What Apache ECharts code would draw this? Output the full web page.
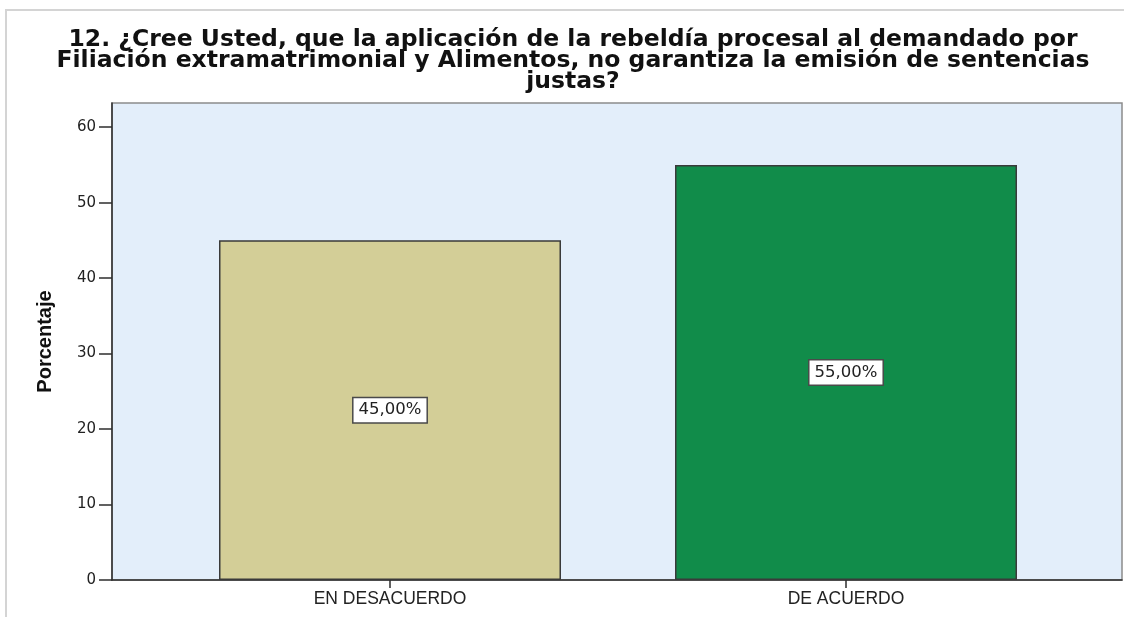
<!DOCTYPE html>
<html>
<head>
<meta charset="utf-8">
<script src="https://cdn.jsdelivr.net/npm/echarts@6/dist/echarts.min.js"></script>
<style>
html,body{margin:0;padding:0;background:#fff;}
#chart{width:1124px;height:617px;}
</style>
</head>
<body>
<div id="chart"></div>
<script>
const titleText = "12. ¿Cree Usted, que la aplicación de la rebeldía procesal al demandado por\nFiliación extramatrimonial y Alimentos, no garantiza la emisión de sentencias\njustas?";
const categories = ["EN DESACUERDO", "DE ACUERDO"];
const percentages = [45.0, 55.0];
const barColors = ["#d3ce97", "#118c4a"];
const yTicks = [0, 10, 20, 30, 40, 50, 60];
const yAxisName = "Porcentaje";
const yMax = 63.2;

const chart = echarts.init(document.getElementById('chart'), null, {renderer: 'canvas'});
const option = {
  animation: false,
  backgroundColor: '#ffffff',
  title: {
    text: titleText,
    left: 573,
    textAlign: 'center',
    top: 29,
    padding: 0,
    textStyle: {
      fontFamily: 'DejaVu Sans',
      fontWeight: 'bold',
      fontSize: 23.5,
      lineHeight: 21,
      color: '#111'
    }
  },
  graphic: [{
    type: 'rect',
    silent: true,
    shape: {x: 6, y: 10, width: 1130, height: 620},
    style: {fill: 'none', stroke: '#d4d4d4', lineWidth: 2},
    z: -10
  }],
  grid: [
    {left: 112, top: 103, right: 2, bottom: 37, show: true,
     backgroundColor: '#e3eefa', borderColor: '#8c8c8c', borderWidth: 1.5, containLabel: false},
    {left: 162, top: 103, right: 50, bottom: 37, containLabel: false}
  ],
  xAxis: [
    {type: 'value', gridIndex: 0, min: 0, max: 1,
     axisLine: {show: true, lineStyle: {color: '#2e2e2e', width: 1.5}},
     axisTick: {show: false}, axisLabel: {show: false}, splitLine: {show: false}},
    {type: 'category', gridIndex: 1, data: categories,
     axisLine: {show: false},
     axisTick: {show: true, alignWithLabel: true, length: 8, lineStyle: {color: '#2e2e2e', width: 1.5}},
     axisLabel: {margin: 10, fontFamily: 'Liberation Sans', fontSize: 17.5, color: '#222'},
     splitLine: {show: false}}
  ],
  yAxis: [
    {type: 'value', gridIndex: 0, min: 0, max: yMax, interval: 10,
     name: yAxisName, nameLocation: 'middle', nameGap: 57, nameRotate: 90,
     nameTextStyle: {fontFamily: 'Liberation Sans', fontWeight: 'bold', fontSize: 20, color: '#111'},
     axisLine: {show: true, lineStyle: {color: '#2e2e2e', width: 1.5}},
     axisTick: {show: true, length: 13, customValues: yTicks, lineStyle: {color: '#2e2e2e', width: 1.5}},
     axisLabel: {margin: 16, customValues: yTicks, fontFamily: 'DejaVu Sans', fontSize: 15, color: '#222'},
     splitLine: {show: false}},
    {type: 'value', gridIndex: 1, min: 0, max: yMax, show: false, splitLine: {show: false}}
  ],
  series: [{
    type: 'bar',
    xAxisIndex: 1,
    yAxisIndex: 1,
    barWidth: '75%',
    data: percentages.map((v, i) => ({
      value: v,
      itemStyle: {color: barColors[i], borderColor: '#3a3a3a', borderWidth: 1.5}
    })),
    label: {
      show: true,
      position: 'inside',
      formatter: p => p.value.toFixed(2).replace('.', ',') + '%',
      backgroundColor: '#ffffff',
      borderColor: '#4a4a4a',
      borderWidth: 1.5,
      padding: [4, 5, 3, 5],
      fontFamily: 'DejaVu Sans',
      fontSize: 16.5,
      color: '#222'
    }
  }]
};
chart.setOption(option);
</script>
</body>
</html>
